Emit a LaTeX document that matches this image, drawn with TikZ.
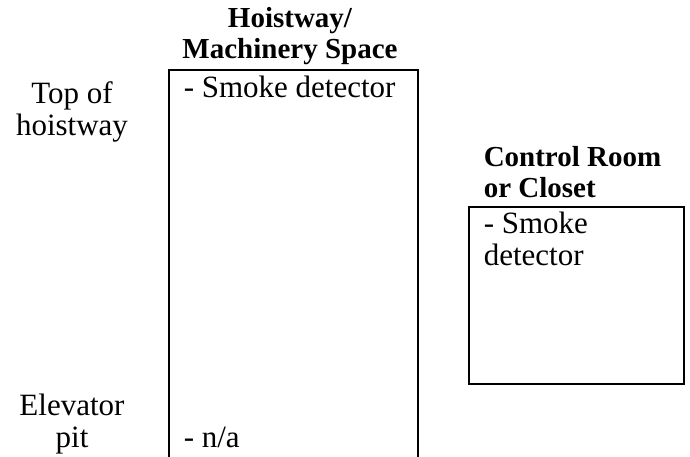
\documentclass[tikz,border=0pt]{standalone}
\usepackage{fontspec}
\setmainfont{Liberation Serif}
\usetikzlibrary{positioning}
\usetikzlibrary{math}

\begin{document}
\begin{tikzpicture}[x=1pt,y=-1pt,line width=1.5pt]

  \tikzmath{
    \shaftL = 169; % left edge of hoistway box
    \shaftR = 418; % right edge of hoistway box
    \shaftT = 70;  % top edge of hoistway box
    \roomL  = 468; % control room box
    \roomR  = 683;
    \roomT  = 206;
    \roomB  = 383;
  }

  \tikzset{
    plain/.style={inner sep=0pt, font=\fontsize{31}{32}\selectfont},
    head/.style={inner sep=0pt, font=\fontsize{29}{31}\selectfont\bfseries},
  }

  \useasboundingbox (0,0) rectangle (690,456);

  % Hoistway box, open at the bottom
  \draw (\shaftL,460) -- (\shaftL,\shaftT) -- (\shaftR,\shaftT) -- (\shaftR,460);
  \coordinate (shaft) at (\shaftL,\shaftT);

  % Control room box
  \node[draw, inner sep=0pt, anchor=north west,
        minimum width=\roomR-\roomL, minimum height=\roomB-\roomT] (room) at (\roomL,\roomT) {};

  % headings (base = last line)
  \node[head, align=center, anchor=base] (shafthead) at (290,58) {Hoistway/\\Machinery Space};
  \node[head, align=left, anchor=base west] (roomhead) at (483,197) {Control Room\\or Closet};

  % levels
  \node[plain, align=center, anchor=base] (toplevel) at (72,135) {Top of\\hoistway};
  \node[plain, align=center, anchor=base] (pitlevel) at (72,447) {Elevator\\pit};

  % contents
  \node[plain, anchor=base west] (shafttop) at (183,97) {- Smoke detector};
  \node[plain, anchor=base west] (shaftpit) at (183,447) {- n/a};
  \node[plain, align=left, anchor=base west] (roomitem) at (483,265) {- Smoke\\detector};

\end{tikzpicture}
\end{document}
